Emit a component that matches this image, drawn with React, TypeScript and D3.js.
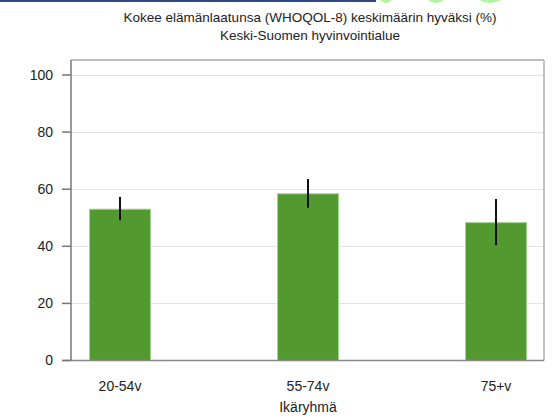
import React from 'react';
import * as d3 from 'd3';

const categories = ['20-54v', '55-74v', '75+v'];
const values = [53.0, 58.4, 48.3];
const lower = [49.1, 53.5, 40.4];
const upper = [57.3, 63.6, 56.6];
const yTicks = [0, 20, 40, 60, 80, 100];
const titleLines = ['Kokee elämänlaatunsa (WHOQOL-8) keskimäärin hyväksi (%)', 'Keski-Suomen hyvinvointialue'];
const xAxisTitle = 'Ikäryhmä';

const W = 560;
const H = 418;
const left = 71;
const right = 544;
const top = 60;
const bottom = 360.5;
const font = '"Liberation Sans", Arial, sans-serif';

export default function App() {
  const x = d3.scalePoint<string>().domain(categories).range([120, 496]);
  const y = d3.scaleLinear().domain([0, 100]).range([bottom, 75]);
  const barW = 61;
  return (
    <svg width={W} height={H} style={{ position: 'absolute', left: 0, top: 0, background: '#fff' }}>
      <rect x={0} y={0} width={376} height={2} fill="#2f4a78" />
      <ellipse cx={386} cy={-6} rx={8} ry={9} fill="#b6f0a8" />
      <ellipse cx={436} cy={-6} rx={11} ry={9} fill="#b6f0a8" />
      <ellipse cx={490} cy={-6} rx={15} ry={9} fill="#b6f0a8" />
      {titleLines.map((t, i) => (
        <text key={i} x={310} y={22 + i * 18} textAnchor="middle" fontFamily={font} fontSize={13.5} fill="#222">{t}</text>
      ))}
      {yTicks.filter(t => t > 0).map(t => (
        <line key={'g' + t} x1={left} x2={right} y1={Math.round(y(t)) + 0.5} y2={Math.round(y(t)) + 0.5} stroke="#e4e4e4" strokeWidth={1} />
      ))}
      <line x1={left} x2={right} y1={top} y2={top} stroke="#a8a8a8" strokeWidth={1.5} />
      <line x1={right} x2={right} y1={top} y2={bottom} stroke="#b0b0b0" strokeWidth={1.5} />
      {categories.map((c, i) => (
        <rect key={c} x={(x(c) as number) - barW / 2} y={y(values[i])} width={barW} height={y(0) - y(values[i])} fill="#529a2f" stroke="#9fd88c" strokeWidth={1} />
      ))}
      {categories.map((c, i) => (
        <line key={'e' + c} x1={x(c)} x2={x(c)} y1={y(upper[i])} y2={y(lower[i])} stroke="#111" strokeWidth={2} />
      ))}
      <line x1={left} x2={left} y1={top} y2={bottom} stroke="#777" strokeWidth={1.5} />
      <line x1={62} x2={right} y1={bottom} y2={bottom} stroke="#888" strokeWidth={1.5} />
      {yTicks.map(t => (
        <g key={'t' + t}>
          <line x1={62} x2={left} y1={y(t)} y2={y(t)} stroke="#777" strokeWidth={1.5} />
          <text x={53} y={y(t)} dy="0.35em" textAnchor="end" fontFamily={font} fontSize={14} fill="#222">{t}</text>
        </g>
      ))}
      {categories.map(c => (
        <text key={'x' + c} x={x(c)} y={390.5} textAnchor="middle" fontFamily={font} fontSize={14} fill="#222">{c}</text>
      ))}
      <text x={308} y={412} textAnchor="middle" fontFamily={font} fontSize={14} fill="#222">{xAxisTitle}</text>
    </svg>
  );
}
